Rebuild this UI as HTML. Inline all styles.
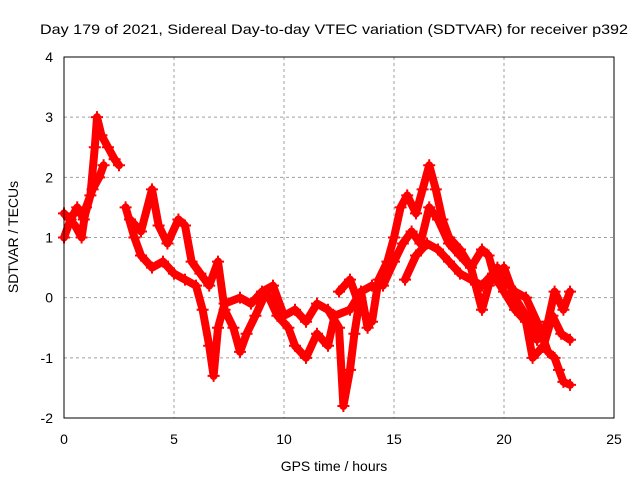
<!DOCTYPE html>
<html><head><meta charset="utf-8"><style>
body{margin:0;background:#fff}
svg text{font-family:"Liberation Sans",sans-serif;font-size:14px;fill:#000}
</style></head><body>
<svg id="chart" width="640" height="480">
<rect width="640" height="480" fill="#fff"/>
<text x="334" y="34" text-anchor="middle" textLength="588" lengthAdjust="spacingAndGlyphs">Day 179 of 2021, Sidereal Day-to-day VTEC variation (SDTVAR) for receiver p392</text>
<g id="grid"></g>
<g id="ticks"></g>
<g id="series"></g>
<rect x="64" y="57" width="550" height="361" fill="none" stroke="#000" stroke-width="1"/>
<text x="334" y="471" text-anchor="middle">GPS time / hours</text>
<text transform="translate(18,237) rotate(-90)" text-anchor="middle">SDTVAR / TECUs</text>
</svg>
<script>
const xTicks=[0,5,10,15,20,25];
const yTicks=[-2,-1,0,1,2,3,4];
const t1x=[0,0.3,0.6,0.9,1.2,1.4,1.5,1.7,2.0,2.3,2.5];
const t1y=[1.0,1.3,1.5,1.3,1.7,2.5,3.0,2.7,2.5,2.3,2.2];
const t2x=[0,0.5,0.8,1.0,1.3,1.6,1.8];
const t2y=[1.4,1.2,1.0,1.5,1.8,2.0,2.2];
const t3x=[2.8,3.2,3.5,4.0,4.5,5.0,5.5,6.0,6.3,6.6,6.8,7.0,7.3,8.0,8.5,9.0,9.5,10,10.5,11,11.5,12,12.5,12.7,13.0,13.2,13.5,14.0];
const t3y=[1.5,1.0,0.7,0.5,0.6,0.4,0.3,0.2,-0.2,-0.8,-1.3,-0.5,-0.1,0.0,-0.1,0.1,0.2,-0.3,-0.2,-0.4,-0.1,-0.2,-0.5,-1.8,-1.2,-0.6,0.1,0.2];
const t4x=[3.0,3.5,4.0,4.3,4.7,5.2,5.5,5.8,6.2,6.6,7.0,7.3,7.7,8.0,8.3,8.7,9.2,9.7,10.2,10.5,11.0,11.5,12.0,12.3,13,13.5,13.8];
const t4y=[1.3,1.1,1.8,1.2,0.9,1.3,1.2,0.6,0.4,0.2,0.6,-0.2,-0.5,-0.9,-0.6,-0.3,0.1,-0.3,-0.5,-0.8,-1.0,-0.6,-0.8,-0.3,-0.2,0.1,-0.5];
const t5x=[12.5,13.0,13.5,14,14.3,14.7,15.0,15.3,15.6,16.0,16.3,16.6,16.9,17.2,17.5,18.0,18.5,19.0,19.3,19.7,20,20.5,21,21.5,22,22.3,22.5,22.7,23.0];
const t5y=[0.1,0.3,-0.2,-0.4,0.3,0.6,1.0,1.5,1.7,1.4,1.8,2.2,1.8,1.3,1.0,0.8,0.5,-0.2,0.2,0.5,0.3,0.1,0.0,-0.4,-0.9,-1.0,-1.2,-1.4,-1.45];
const t6x=[14.5,15.0,15.4,15.8,16.2,16.6,17.0,17.5,18.0,18.5,19.0,19.3,19.6,20.0,20.5,21,21.5,22,22.3,22.7,23];
const t6y=[0.2,0.6,0.9,1.1,0.9,1.5,1.3,0.9,0.7,0.5,0.8,0.7,0.3,0.5,0.0,-0.3,-0.7,-0.4,0.1,-0.2,0.1];
const t7x=[15.5,16.0,16.5,17,17.5,18,18.5,19,19.5,20,20.5,21,21.3,21.8,22.2,22.6,23];
const t7y=[0.3,0.7,0.9,0.8,0.6,0.4,0.3,0.2,0.4,0.1,-0.2,-0.4,-1.0,-0.8,-0.3,-0.6,-0.7];
const tracks=[[t1x,t1y],[t2x,t2y],[t3x,t3y],[t4x,t4y],[t5x,t5y],[t6x,t6y],[t7x,t7y]];
const NS="http://www.w3.org/2000/svg";
function sx(v){return 64+v/25*550;}
function sy(v){return 418-(v+2)/6*361;}
function mk(tag,attrs,parent){const e=document.createElementNS(NS,tag);for(const k in attrs)e.setAttribute(k,attrs[k]);parent.appendChild(e);return e;}
const grid=document.getElementById('grid'),ticks=document.getElementById('ticks'),ser=document.getElementById('series');
xTicks.forEach(v=>{
  if(v>0&&v<25){const l=mk('line',{x1:sx(v),x2:sx(v),y1:57,y2:418,stroke:'#a0a0a0','stroke-dasharray':'3,3'},grid);
  
  }
  const t=mk('text',{x:sx(v),y:444,'text-anchor':'middle'},ticks);t.textContent=v;
  
  
});
yTicks.forEach(v=>{
  if(v>-2&&v<4){const l=mk('line',{x1:64,x2:614,y1:sy(v),y2:sy(v),stroke:'#a0a0a0','stroke-dasharray':'3,3'},grid);
  
  }
  const t=mk('text',{x:53,y:sy(v)+5,'text-anchor':'end'},ticks);t.textContent=v;
  
  
});
tracks.forEach(([xs,ys])=>{
  const pts=xs.map((x,i)=>sx(x)+','+sy(ys[i])).join(' ');
  const pl=mk('polyline',{points:pts,fill:'none',stroke:'#f00','stroke-width':8,'stroke-linejoin':'round','stroke-linecap':'round'},ser);
  
  
  xs.forEach((x,i)=>{
    const cx=sx(x),cy=sy(ys[i]);
    const p=mk('path',{d:`M${cx-6},${cy}H${cx+6}M${cx},${cy-6}V${cy+6}`,stroke:'#f00','stroke-width':2},ser);
    
    
  });
});
</script>
</body></html>
